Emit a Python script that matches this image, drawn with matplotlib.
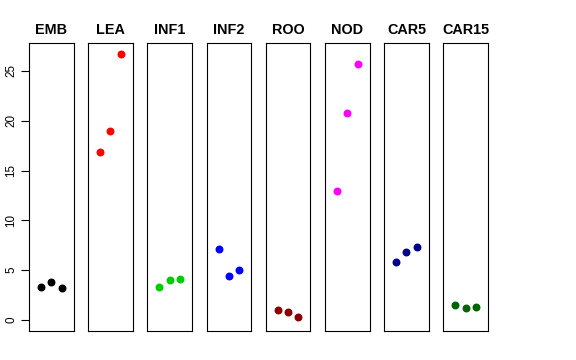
import matplotlib
matplotlib.use("Agg")
import matplotlib.pyplot as plt

plt.rcParams['font.family'] = ['Liberation Sans', 'DejaVu Sans']

tissues = ["EMB", "LEA", "INF1", "INF2", "ROO", "NOD", "CAR5", "CAR15"]
colors = ["black", "red", "#00CD00", "blue", "#8B0000", "magenta", "#00008B", "#006400"]
values = [
    [3.3, 3.85, 3.2],
    [16.85, 19.0, 26.7],
    [3.35, 4.0, 4.1],
    [7.1, 4.45, 5.05],
    [1.05, 0.85, 0.3],
    [12.9, 20.8, 25.65],
    [5.8, 6.8, 7.35],
    [1.5, 1.2, 1.35],
]
reps = [1, 2, 3]
yticks = [0, 5, 10, 15, 20, 25]

W, H = 576, 360
fig = plt.figure(figsize=(W / 100, H / 100), dpi=100)

ymax = max(max(v) for v in values)
pad = ymax * 0.04
left0, step, width = 29, 59.2, 44.5
top, bottom = 43.3, 330.7

for i, (name, col, vals) in enumerate(zip(tissues, colors, values)):
    ax = fig.add_axes([(left0 + i * step) / W, (H - bottom) / H,
                       width / W, (bottom - top) / H])
    ax.plot(reps, vals, "o", color=col, ms=4.7, mec=col)
    ax.set_xlim(-0.16, 4.16)
    ax.set_ylim(-pad, ymax + pad)
    ax.set_xticks([])
    ax.set_title(name, fontsize=10.4, fontweight="bold", pad=7)
    for s in ax.spines.values():
        s.set_linewidth(0.8)
    if i == 0:
        ax.set_yticks(yticks)
        ax.tick_params(axis="y", length=6, width=0.8, labelsize=8.4, pad=2.5)
        for lab in ax.get_yticklabels():
            lab.set_rotation(90)
            lab.set_va("center")
    else:
        ax.set_yticks([])

fig.savefig("out.png", dpi=100)
